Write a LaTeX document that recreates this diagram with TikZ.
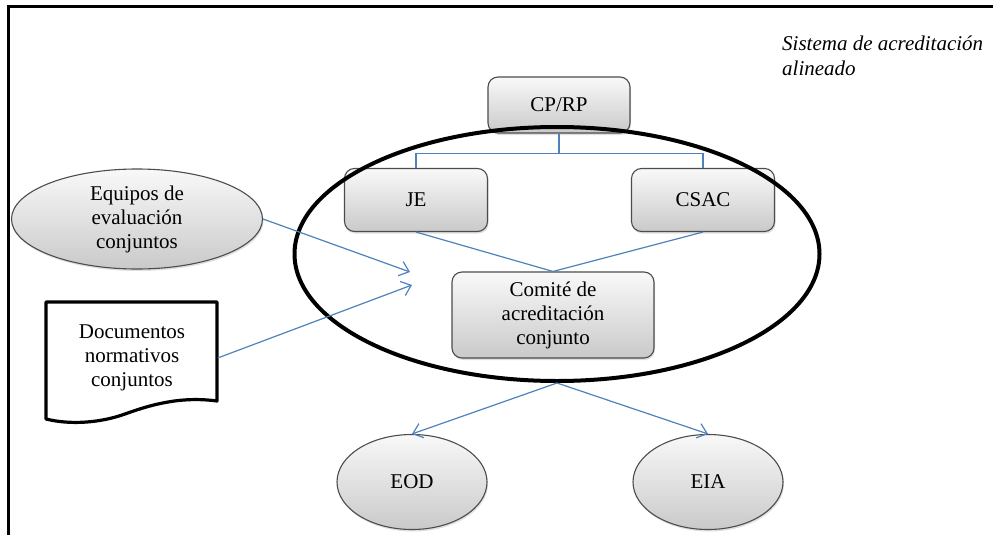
\documentclass[tikz,border=0pt]{standalone}
\usepackage{fontspec}
\setmainfont{Liberation Serif}
\usetikzlibrary{arrows.meta,shapes.geometric,shadows}
\definecolor{linkblue}{RGB}{79,129,189}

\begin{document}
\begin{tikzpicture}[x=1pt,y=-1pt,
        font=\fontsize{21}{24}\selectfont,
        box node/.style={draw=black!70,line width=1.1pt,rounded corners=10pt,
            align=center,inner sep=0pt,top color=gray!5,bottom color=gray!42,
            drop shadow={opacity=.25,shadow xshift=1pt,shadow yshift=-2pt}},
        oval node/.style={ellipse,draw=black!70,line width=1.1pt,
            align=center,inner sep=0pt,top color=gray!5,bottom color=gray!42,
            drop shadow={opacity=.25,shadow xshift=1pt,shadow yshift=-2pt}},
        group node/.style={ellipse,draw,line width=4pt,inner sep=0pt},
        link/.style={draw=linkblue,line width=1.2pt},
        tip/.style={-{Straight Barb[length=9pt,width=15pt]}}]

    \useasboundingbox (0,0) rectangle (993,535);
    \draw[line width=3pt] (993,7) -- (8,7) -- (8,535);

    \node[anchor=north west,align=left,inner sep=0pt,font=\fontsize{21}{25}\selectfont\itshape]
        (titulo) at (782,36) {Sistema de acreditación\\alineado};

    \node[box node,minimum width=142pt,minimum height=56pt] (cp) at (559,105) {CP/RP};
    \node[box node,minimum width=143pt,minimum height=63pt] (je) at (416,200) {JE};
    \node[box node,minimum width=143pt,minimum height=63pt] (csac) at (703,200) {CSAC};
    \node[box node,minimum width=202pt,minimum height=86pt] (comite) at (553,315)
        {Comité de\\acreditación\\conjunto};

    \node[oval node,minimum width=251pt,minimum height=100pt] (equipos) at (137,219)
        {Equipos de\\evaluación\\conjuntos};
    \node[align=center,minimum width=171pt,inner sep=0pt] (docs) at (132,358)
        {Documentos\\normativos\\conjuntos};
    \draw[line width=3.2pt,line join=round] (46,302) -- (217,302) -- (217,401)
        .. controls (180,396) and (150,405) .. (125,414)
        .. controls (100,423) and (70,425) .. (46,419) -- cycle;

    \node[oval node,minimum width=150pt,minimum height=95pt] (eod) at (412,482) {EOD};
    \node[oval node,minimum width=150pt,minimum height=95pt] (eia) at (708,482) {EIA};

    % conexiones
    \draw[link] (cp.south) -- ++(0,20) coordinate (rama);
    \draw[link] (rama) -| (je.north);
    \draw[link] (rama) -| (csac.north);

    \node[group node,minimum width=525pt,minimum height=254pt] (grupo) at (557,254) {};

    \coordinate (entra1) at (410,272);
    \coordinate (entra2) at (412,285);

    \path[link]
    (je.south) edge (comite.north)
    (csac.south) edge (comite.north)
    (equipos.east) edge [tip] (entra1)
    (docs.east) edge [tip] (entra2)
    (grupo.south) edge [tip] (eod.north)
    (grupo.south) edge [tip] (eia.north)
    ;
\end{tikzpicture}
\end{document}
